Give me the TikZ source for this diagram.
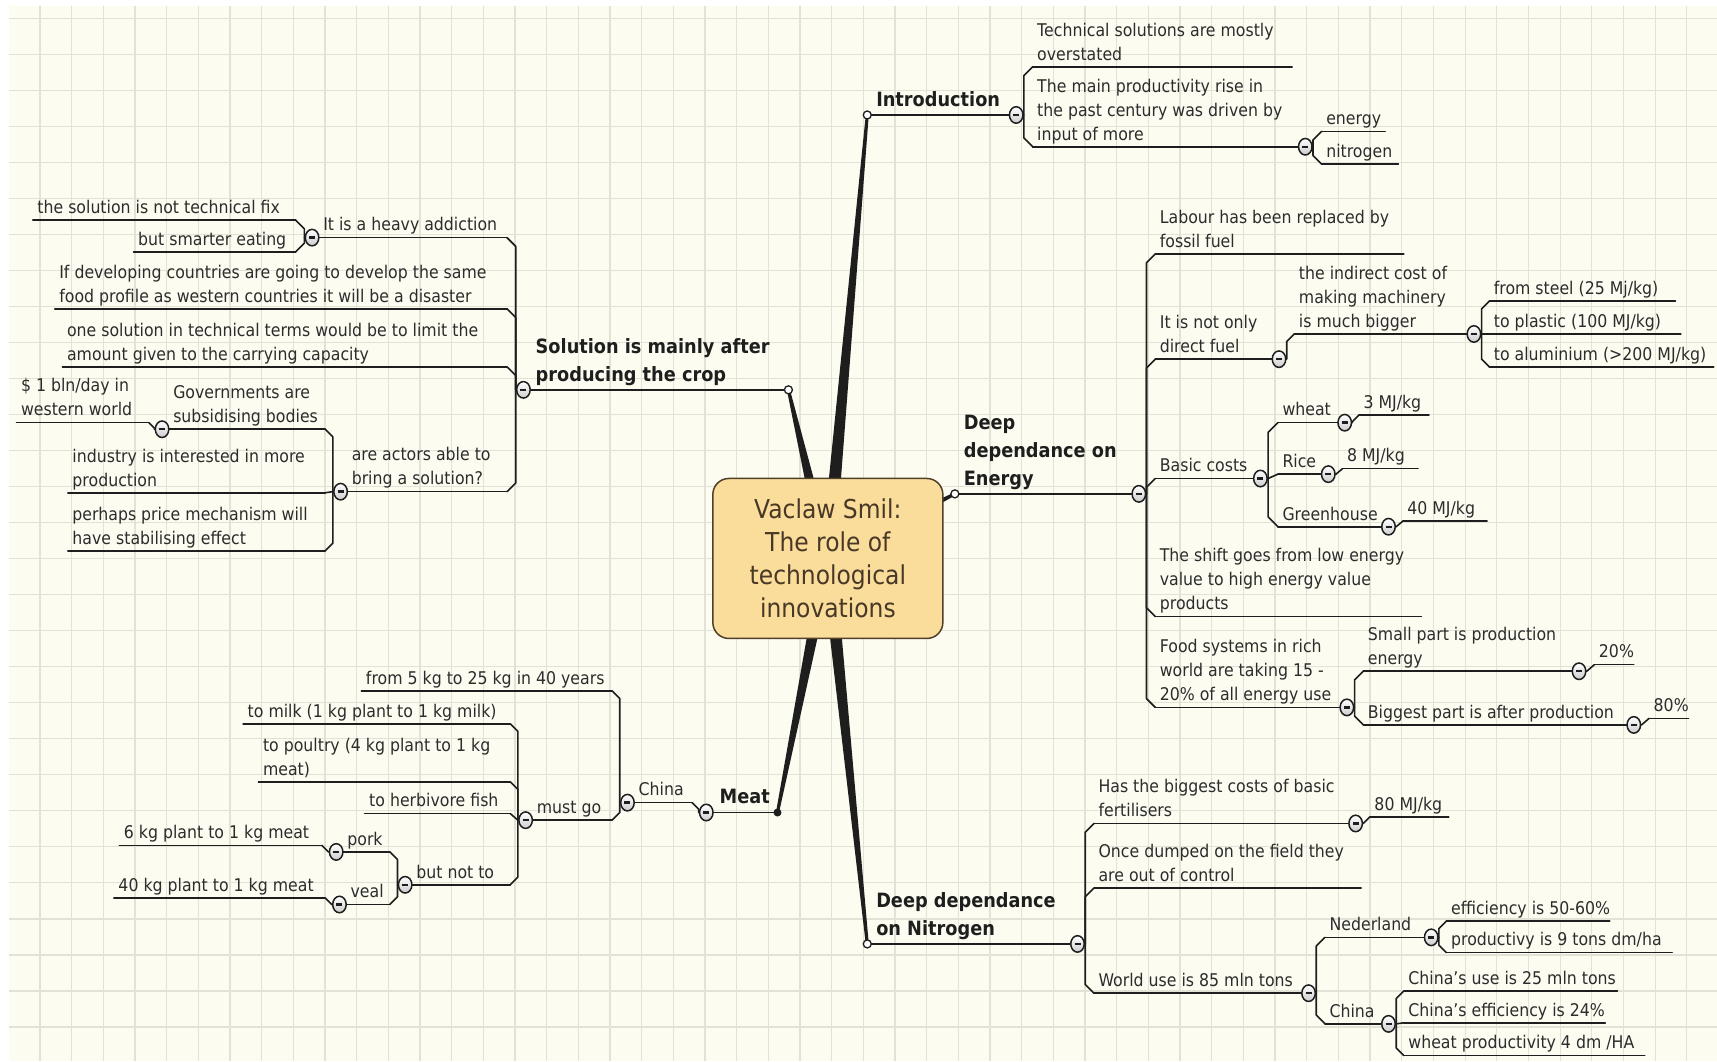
\documentclass[tikz,border=0pt]{standalone}
\usepackage{fontspec}
\setmainfont{DejaVu Sans}[FakeStretch=0.9]
\usetikzlibrary{calc,shapes.geometric}

\definecolor{paper}{RGB}{252,252,241}
\definecolor{gridc}{RGB}{226,227,214}
\definecolor{ink}{RGB}{30,30,30}
\definecolor{textc}{RGB}{44,44,44}
\definecolor{hubfill}{RGB}{250,220,155}
\definecolor{hubline}{RGB}{80,64,40}
\definecolor{hubtext}{RGB}{72,56,38}

\tikzset{
  uline/.style={draw=ink, line width=1.6pt, line cap=round},
  conn/.style={draw=ink, line width=1.6pt, line join=round, line cap=round},
  txt/.style={anchor=south west, inner xsep=4.4pt, inner ysep=0pt, yshift=-0.7pt,
    align=left, text=textc, font=\fontsize{17.5}{24}\selectfont},
  head/.style={anchor=south west, inner xsep=4.4pt, inner ysep=0pt,
    align=left, text=ink, font=\fontsize{19.7}{28}\selectfont\bfseries},
  knob/.style={ellipse, draw=ink, line width=1.5pt, top color=white, bottom color=black!20,
    minimum width=13.5pt, minimum height=16.5pt, inner sep=0pt,
    path picture={\draw[ink, line width=2.4pt]
      ([xshift=-3pt]path picture bounding box.center) --
      ([xshift=3pt]path picture bounding box.center);}},
  endring/.style={circle, draw=ink, fill=white, line width=1.3pt, minimum size=8pt, inner sep=0pt},
  enddot/.style={circle, fill=ink, minimum size=8pt, inner sep=0pt},
  hubbox/.style={rectangle, rounded corners=16pt, draw=hubline, line width=1.5pt, fill=hubfill,
    minimum width=230pt, minimum height=160pt, align=center, text=hubtext,
    font=\fontsize{26}{33}\selectfont},
}

% underlined topic: name, left x, right x, underline y, text
\newcommand\tnode[6][]{%
  \coordinate (#2-w) at (#3,#5);
  \coordinate (#2-e) at (#4,#5);
  \draw[uline] (#2-w) -- (#2-e);
  \node[txt,#1] (#2) at (#2-w) {#6\strut};}

% bracket connector from a collapse knob to a child (direction 1 = right, -1 = left)
\newcommand\fork[3]{%
  \draw[conn] let \p1=(#1), \p2=(#2),
      \n1={\x1+(#3)*7.7pt},
      \n2={abs(\x2-\n1)},
      \n3={\y2-\y1},
      \n4={\y2-sign(\n3)*min(\n2,abs(\n3))}
    in (\p1) -- (\n1,\y1) -- (\n1,\n4) -- (\p2);}

\newcommand\knob[1]{\node[knob] (#1-k) at (#1) {};}

% tapered main branch from the hub
\newcommand\taper[2]{%
  \fill[ink] ($(#1)!7pt!90:(#2)$) -- ($(#2)!1.5pt!-90:(#1)$) --
    ($(#2)!1.5pt!90:(#1)$) -- ($(#1)!7pt!-90:(#2)$) -- cycle;}

\begin{document}
\begin{tikzpicture}[x=1.095pt, y=-1.095pt]
\useasboundingbox (0,0) rectangle (1568,969);

% paper with grid
\fill[white] (0,0) rectangle (1568,969);
\fill[paper] (8.2,5.5) rectangle (1568,969);
\foreach \i in {0,...,52}
  \draw[gridc, line width=1.1pt] ({36.5+28.92*\i},5.5) -- ({36.5+28.92*\i},969);
\foreach \j in {0,...,28}
  \draw[gridc, line width=1.1pt] (8.2,{16.7+32.9*\j}) -- (1568,{16.7+32.9*\j});

% main branches
\coordinate (hub) at (756,510);
\coordinate (intro-w) at (792,105);
\coordinate (intro-e) at (928,105);
\coordinate (sol-w) at (478,356);
\coordinate (sol-e) at (720,356);
\coordinate (ener-w) at (872,451);
\coordinate (ener-e) at (1040,451);
\coordinate (nitro-w) at (792,862);
\coordinate (nitro-e) at (984,862);
\coordinate (meat-w) at (645,742);
\coordinate (meat-e) at (710,742);

\taper{hub}{intro-w}
\taper{hub}{sol-e}
\taper{hub}{ener-w}
\taper{hub}{nitro-w}
\taper{hub}{meat-e}

\node[hubbox] (centre) at (hub) {Vaclaw Smil:\\The role of\\technological\\innovations};

\draw[uline] (intro-w) -- (intro-e);
\draw[uline] (sol-w) -- (sol-e);
\draw[uline] (ener-w) -- (ener-e);
\draw[uline] (nitro-w) -- (nitro-e);
\draw[uline] (meat-w) -- (meat-e);

\node[head, xshift=4.4pt] (intro) at (intro-w) {Introduction\strut};
\node[head, xshift=7.7pt] (sol) at (sol-w) {Solution is mainly after\\producing the crop\strut};
\node[head, xshift=4.4pt] (ener) at (ener-w) {Deep\\dependance on\\Energy\strut};
\node[head, xshift=4.4pt] (nitro) at (nitro-w) {Deep dependance\\on Nitrogen\strut};
\node[head, xshift=8.8pt] (meat) at (meat-w) {Meat\strut};

% ---- Introduction
\tnode{tech}{943}{1180}{61}{Technical solutions are mostly\\overstated}
\tnode{main}{943}{1192}{134}{The main productivity rise in\\the past century was driven by\\input of more}
\tnode{en}{1207}{1265}{120}{energy}
\tnode{ni}{1207}{1277}{150}{nitrogen}

% ---- Solution
\tnode[xshift=6.6pt]{add}{285}{463}{217}{It is a heavy addiction}
\tnode{fix}{30}{270}{201}{the solution is not technical fix}
\tnode{eat}{122}{270}{230}{but smarter eating}
\tnode{dev}{50}{463}{282}{If developing countries are going to develop the same\\food profile as western countries it will be a disaster}
\tnode{one}{57}{463}{335}{one solution in technical terms would be to limit the\\amount given to the carrying capacity}
\tnode[xshift=6.6pt]{act}{311}{463}{449}{are actors able to\\bring a solution?}
\tnode[xshift=6.6pt]{gov}{148}{297}{392}{Governments are\\subsidising bodies}
\tnode{bln}{15}{136}{386}{\$ 1 bln/day in\\western world}
\tnode{ind}{62}{297}{450}{industry is interested in more\\production}
\tnode{pri}{62}{297}{503}{perhaps price mechanism will\\have stabilising effect}

% ---- Meat
\tnode[xshift=6.6pt]{china}{573}{632}{733}{China}
\tnode{from}{330}{559}{631}{from 5 kg to 25 kg in 40 years}
\tnode[xshift=6.6pt]{must}{480}{559}{749}{must go}
\tnode{milk}{222}{466}{661}{to milk (1 kg plant to 1 kg milk)}
\tnode{poul}{236}{466}{714}{to poultry (4 kg plant to 1 kg\\meat)}
\tnode{fish}{333}{466}{743}{to herbivore fish}
\tnode[xshift=6.6pt]{but}{370}{466}{808}{but not to}
\tnode[xshift=6.6pt]{pork}{307}{356}{778}{pork}
\tnode[xshift=6.6pt]{veal}{310}{356}{826}{veal}
\tnode{six}{109}{294}{772}{6 kg plant to 1 kg meat}
\tnode{forty}{104}{297}{820}{40 kg plant to 1 kg meat}

% ---- Energy
\tnode{lab}{1055}{1282}{232}{Labour has been replaced by\\fossil fuel}
\tnode{notonly}{1055}{1168}{328}{It is not only\\direct fuel}
\tnode{indir}{1182}{1346}{305}{the indirect cost of\\making machinery\\is much bigger}
\tnode{steel}{1360}{1530}{275}{from steel (25 Mj/kg)}
\tnode{plastic}{1360}{1535}{305}{to plastic (100 MJ/kg)}
\tnode{alu}{1360}{1565}{335}{to aluminium (>200 MJ/kg)}
\tnode{basic}{1055}{1151}{437}{Basic costs}
\tnode{wheat}{1167}{1228}{386}{wheat}
\tnode{rice}{1167}{1213}{433}{Rice}
\tnode{green}{1167}{1268}{481}{Greenhouse}
\tnode{mjthree}{1241}{1305}{379}{3 MJ/kg}
\tnode{mjeight}{1226}{1295}{428}{8 MJ/kg}
\tnode{mjforty}{1281}{1358}{476}{40 MJ/kg}
\tnode{shift}{1055}{1298}{563}{The shift goes from low energy\\value to high energy value\\products}
\tnode{food}{1055}{1230}{646}{Food systems in rich\\world are taking 15 -\\20\% of all energy use}
\tnode{small}{1245}{1442}{613}{Small part is production\\energy}
\tnode{big}{1245}{1492}{662}{Biggest part is after production}
\tnode{ptwenty}{1456}{1492}{607}{20\%}
\tnode{peighty}{1506}{1542}{656}{80\%}

% ---- Nitrogen
\tnode{fert}{999}{1238}{752}{Has the biggest costs of basic\\fertilisers}
\tnode{mjeighty}{1251}{1323}{746}{80 MJ/kg}
\tnode{dump}{999}{1243}{811}{Once dumped on the field they\\are out of control}
\tnode{world}{999}{1195}{907}{World use is 85 mln tons}
\tnode{ned}{1210}{1307}{856}{Nederland}
\tnode{eff}{1321}{1470}{841}{efficiency is 50-60\%}
\tnode{prod}{1321}{1527}{870}{productivy is 9 tons dm/ha}
\tnode{chn}{1210}{1268}{935}{China}
\tnode{use}{1282}{1477}{905}{China's use is 25 mln tons}
\tnode{ceff}{1282}{1466}{934}{China's efficiency is 24\%}
\tnode{wprod}{1282}{1502}{964}{wheat productivity 4 dm /HA}

% ---- connectors
\fork{intro-e}{tech-w}{1}
\fork{intro-e}{main-w}{1}
\fork{main-e}{en-w}{1}
\fork{main-e}{ni-w}{1}

\fork{sol-w}{add-e}{-1}
\fork{sol-w}{dev-e}{-1}
\fork{sol-w}{one-e}{-1}
\fork{sol-w}{act-e}{-1}
\fork{add-w}{fix-e}{-1}
\fork{add-w}{eat-e}{-1}
\fork{act-w}{gov-e}{-1}
\fork{act-w}{ind-e}{-1}
\fork{act-w}{pri-e}{-1}
\fork{gov-w}{bln-e}{-1}

\fork{meat-w}{china-e}{-1}
\fork{china-w}{from-e}{-1}
\fork{china-w}{must-e}{-1}
\fork{must-w}{milk-e}{-1}
\fork{must-w}{poul-e}{-1}
\fork{must-w}{fish-e}{-1}
\fork{must-w}{but-e}{-1}
\fork{but-w}{pork-e}{-1}
\fork{but-w}{veal-e}{-1}
\fork{pork-w}{six-e}{-1}
\fork{veal-w}{forty-e}{-1}

\fork{ener-e}{lab-w}{1}
\fork{ener-e}{notonly-w}{1}
\fork{ener-e}{basic-w}{1}
\fork{ener-e}{shift-w}{1}
\fork{ener-e}{food-w}{1}
\fork{notonly-e}{indir-w}{1}
\fork{indir-e}{steel-w}{1}
\fork{indir-e}{plastic-w}{1}
\fork{indir-e}{alu-w}{1}
\fork{basic-e}{wheat-w}{1}
\fork{basic-e}{rice-w}{1}
\fork{basic-e}{green-w}{1}
\fork{wheat-e}{mjthree-w}{1}
\fork{rice-e}{mjeight-w}{1}
\fork{green-e}{mjforty-w}{1}
\fork{food-e}{small-w}{1}
\fork{food-e}{big-w}{1}
\fork{small-e}{ptwenty-w}{1}
\fork{big-e}{peighty-w}{1}

\fork{nitro-e}{fert-w}{1}
\fork{nitro-e}{dump-w}{1}
\fork{nitro-e}{world-w}{1}
\fork{fert-e}{mjeighty-w}{1}
\fork{world-e}{ned-w}{1}
\fork{world-e}{chn-w}{1}
\fork{ned-e}{eff-w}{1}
\fork{ned-e}{prod-w}{1}
\fork{chn-e}{use-w}{1}
\fork{chn-e}{ceff-w}{1}
\fork{chn-e}{wprod-w}{1}

% ---- collapse knobs
\foreach \k in {intro-e,main-e,sol-w,add-w,act-w,gov-w,meat-w,china-w,must-w,but-w,pork-w,veal-w,
  ener-e,notonly-e,indir-e,basic-e,wheat-e,rice-e,green-e,food-e,small-e,big-e,
  nitro-e,fert-e,world-e,ned-e,chn-e}
  {\knob{\k}}

% branch ends
\node[endring] (intro-r) at (intro-w) {};
\node[endring] (sol-r) at (sol-e) {};
\node[endring] (ener-r) at (ener-w) {};
\node[endring] (nitro-r) at (nitro-w) {};
\node[enddot] (meat-r) at (meat-e) {};
\end{tikzpicture}
\end{document}
